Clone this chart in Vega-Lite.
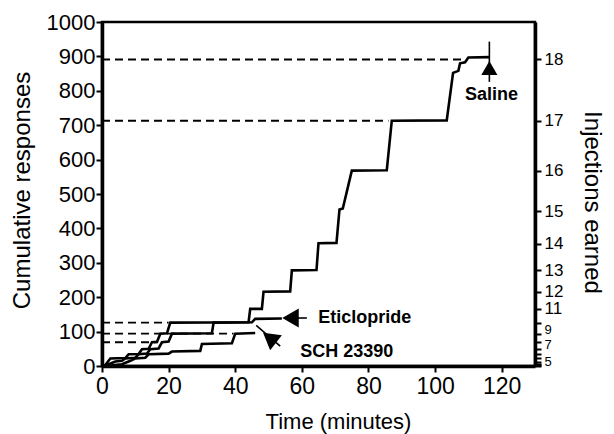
{
  "$schema": "https://vega.github.io/schema/vega-lite/v6.json",
  "width": 433,
  "height": 344,
  "autosize": {"type": "none"},
  "padding": {"left": 102, "top": 22, "right": 79, "bottom": 68},
  "background": "white",
  "config": {
    "font": "Liberation Sans",
    "view": {"stroke": "black", "strokeWidth": 2.5},
    "axis": {"grid": false, "domainColor": "black", "domainWidth": 3.5, "tickColor": "black", "tickWidth": 2, "labelColor": "black", "titleColor": "black", "titleFontWeight": "normal", "labelFlush": false, "labelOverlap": false}
  },
  "datasets": {
    "traces": [
      {"series": "Saline", "time": 0, "responses": 0},
      {"series": "Saline", "time": 1, "responses": 3},
      {"series": "Saline", "time": 2.5, "responses": 22},
      {"series": "Saline", "time": 7, "responses": 23},
      {"series": "Saline", "time": 8, "responses": 34},
      {"series": "Saline", "time": 11, "responses": 35},
      {"series": "Saline", "time": 12, "responses": 49},
      {"series": "Saline", "time": 14, "responses": 50},
      {"series": "Saline", "time": 15, "responses": 69},
      {"series": "Saline", "time": 16.5, "responses": 70},
      {"series": "Saline", "time": 17.5, "responses": 94},
      {"series": "Saline", "time": 19.5, "responses": 95},
      {"series": "Saline", "time": 20.5, "responses": 126},
      {"series": "Saline", "time": 44, "responses": 127},
      {"series": "Saline", "time": 44.5, "responses": 166},
      {"series": "Saline", "time": 48, "responses": 166},
      {"series": "Saline", "time": 48.5, "responses": 216},
      {"series": "Saline", "time": 56.5, "responses": 217},
      {"series": "Saline", "time": 57, "responses": 278},
      {"series": "Saline", "time": 64.4, "responses": 279},
      {"series": "Saline", "time": 65, "responses": 357},
      {"series": "Saline", "time": 70.4, "responses": 358},
      {"series": "Saline", "time": 71.3, "responses": 455},
      {"series": "Saline", "time": 72.3, "responses": 458},
      {"series": "Saline", "time": 75, "responses": 568},
      {"series": "Saline", "time": 85.5, "responses": 569},
      {"series": "Saline", "time": 87, "responses": 713},
      {"series": "Saline", "time": 103.5, "responses": 714},
      {"series": "Saline", "time": 105.4, "responses": 852},
      {"series": "Saline", "time": 107, "responses": 858},
      {"series": "Saline", "time": 107.5, "responses": 880},
      {"series": "Saline", "time": 109, "responses": 883},
      {"series": "Saline", "time": 110, "responses": 897},
      {"series": "Saline", "time": 116.5, "responses": 898},
      {"series": "Eticlopride", "time": 0, "responses": 0},
      {"series": "Eticlopride", "time": 2, "responses": 5},
      {"series": "Eticlopride", "time": 4, "responses": 13},
      {"series": "Eticlopride", "time": 6, "responses": 15},
      {"series": "Eticlopride", "time": 7, "responses": 22},
      {"series": "Eticlopride", "time": 10, "responses": 24},
      {"series": "Eticlopride", "time": 11, "responses": 34},
      {"series": "Eticlopride", "time": 13.5, "responses": 36},
      {"series": "Eticlopride", "time": 14.5, "responses": 49},
      {"series": "Eticlopride", "time": 17, "responses": 51},
      {"series": "Eticlopride", "time": 18, "responses": 69},
      {"series": "Eticlopride", "time": 20, "responses": 71},
      {"series": "Eticlopride", "time": 21, "responses": 94},
      {"series": "Eticlopride", "time": 33, "responses": 95},
      {"series": "Eticlopride", "time": 33.5, "responses": 126},
      {"series": "Eticlopride", "time": 45, "responses": 127},
      {"series": "Eticlopride", "time": 46, "responses": 137},
      {"series": "Eticlopride", "time": 54, "responses": 138},
      {"series": "SCH 23390", "time": 0, "responses": 0},
      {"series": "SCH 23390", "time": 3, "responses": 2},
      {"series": "SCH 23390", "time": 6, "responses": 5},
      {"series": "SCH 23390", "time": 8, "responses": 13},
      {"series": "SCH 23390", "time": 9, "responses": 17},
      {"series": "SCH 23390", "time": 10, "responses": 22},
      {"series": "SCH 23390", "time": 13, "responses": 24},
      {"series": "SCH 23390", "time": 14, "responses": 34},
      {"series": "SCH 23390", "time": 20, "responses": 36},
      {"series": "SCH 23390", "time": 21, "responses": 42},
      {"series": "SCH 23390", "time": 29.5, "responses": 44},
      {"series": "SCH 23390", "time": 30, "responses": 64},
      {"series": "SCH 23390", "time": 39, "responses": 66},
      {"series": "SCH 23390", "time": 40, "responses": 94},
      {"series": "SCH 23390", "time": 46, "responses": 96}
    ],
    "guides": [
      {"level": 891, "from": 0, "to": 109.5},
      {"level": 713, "from": 0, "to": 86},
      {"level": 126, "from": 0, "to": 20},
      {"level": 94, "from": 0, "to": 39.5},
      {"level": 69, "from": 0, "to": 16.4}
    ],
    "arrows": [
      {"series": "Saline", "t1": 116.3, "t2": 116.3, "r1": 943, "r2": 826, "tx": 116.3, "ry": 866},
      {"series": "Eticlopride", "t1": 56, "t2": 61.5, "r1": 139.5, "r2": 139.5, "tx": 56.6, "ry": 139.5},
      {"series": "SCH 23390", "t1": 46.3, "t2": 53.5, "r1": 118, "r2": 58, "tx": 50.3, "ry": 82}
    ],
    "labels": [
      {"label": "Saline", "t": 109, "r": 788},
      {"label": "Eticlopride", "t": 64.9, "r": 139.5},
      {"label": "SCH 23390", "t": 59.5, "r": 40}
    ]
  },
  "layer": [
    {
      "data": {"name": "traces"},
      "mark": {"type": "line", "color": "black", "strokeWidth": 2.6},
      "encoding": {
        "x": {"field": "time", "type": "quantitative", "scale": {"domain": [0, 130], "nice": false},
          "axis": {"values": [0, 10, 20, 30, 40, 50, 60, 70, 80, 90, 100, 110, 120, 130], "labelExpr": "datum.value % 20 == 0 ? datum.label : ''", "tickSize": 6, "labelPadding": 3, "labelFontSize": 23, "title": "Time (minutes)", "titleFontSize": 22, "titleX": 236, "titleY": 62, "titleBaseline": "alphabetic"}},
        "y": {"field": "responses", "type": "quantitative", "scale": {"domain": [0, 1000], "nice": false},
          "axis": {"values": [0, 100, 200, 300, 400, 500, 600, 700, 800, 900, 1000], "format": "d", "tickSize": 6, "labelPadding": 1, "labelFontSize": 22, "labelBaseline": "middle", "title": "Cumulative responses", "titleFontSize": 24, "titleX": -80, "titleY": 168, "titleAngle": -90, "titleBaseline": "middle", "titleAlign": "center"}},
        "detail": {"field": "series", "type": "nominal"}
      }
    },
    {
      "data": {"name": "guides"},
      "mark": {"type": "rule", "color": "black", "strokeWidth": 1.8, "strokeDash": [8, 5]},
      "encoding": {
        "x": {"field": "from", "type": "quantitative"},
        "x2": {"field": "to"},
        "y": {"field": "level", "type": "quantitative", "scale": {"domain": [0, 1000], "nice": false},
          "axis": {"orient": "right", "values": [1, 3, 7, 13, 22, 34, 49, 69, 94, 126, 166, 216, 278, 355, 450, 568, 713, 891],
            "labelExpr": "datum.value==22?'5':datum.value==49?'7':datum.value==94?'9':datum.value==166?'11':datum.value==216?'12':datum.value==278?'13':datum.value==355?'14':datum.value==450?'15':datum.value==568?'16':datum.value==713?'17':datum.value==891?'18':''",
            "labelFontSize": {"condition": {"test": "datum.value < 120", "value": 13}, "value": 17},
            "labelOffset": {"condition": [{"test": "datum.value == 94", "value": -4}, {"test": "datum.value == 49", "value": -5}, {"test": "datum.value == 22", "value": 3}], "value": 0},
            "tickSize": 6, "labelPadding": 3, "labelBaseline": "middle", "title": "Injections earned", "titleFontSize": 24, "titleX": 56, "titleY": 180, "titleAngle": 90, "titleBaseline": "middle", "titleAlign": "center"}}
      }
    },
    {
      "data": {"name": "arrows"},
      "mark": {"type": "rule", "color": "black", "strokeWidth": 1.6},
      "encoding": {
        "x": {"field": "t1", "type": "quantitative"},
        "x2": {"field": "t2"},
        "y": {"field": "r1", "type": "quantitative", "scale": {"domain": [0, 1000], "nice": false}, "axis": null},
        "y2": {"field": "r2"}
      }
    },
    {
      "data": {"name": "arrows"},
      "transform": [{"filter": "datum.series == 'Saline'"}],
      "mark": {"type": "point", "shape": "triangle-up", "filled": true, "color": "black", "size": 260, "opacity": 1},
      "encoding": {
        "x": {"field": "tx", "type": "quantitative"},
        "y": {"field": "ry", "type": "quantitative", "scale": {"domain": [0, 1000], "nice": false}, "axis": null}
      }
    },
    {
      "data": {"name": "arrows"},
      "transform": [{"filter": "datum.series == 'Eticlopride'"}],
      "mark": {"type": "point", "shape": "triangle-left", "filled": true, "color": "black", "size": 360, "opacity": 1},
      "encoding": {
        "x": {"field": "tx", "type": "quantitative"},
        "y": {"field": "ry", "type": "quantitative", "scale": {"domain": [0, 1000], "nice": false}, "axis": null}
      }
    },
    {
      "data": {"name": "arrows"},
      "transform": [{"filter": "datum.series == 'SCH 23390'"}],
      "mark": {"type": "point", "shape": "triangle-left", "filled": true, "color": "black", "size": 360, "opacity": 1, "angle": 38},
      "encoding": {
        "x": {"field": "tx", "type": "quantitative"},
        "y": {"field": "ry", "type": "quantitative", "scale": {"domain": [0, 1000], "nice": false}, "axis": null}
      }
    },
    {
      "data": {"name": "labels"},
      "mark": {"type": "text", "align": "left", "baseline": "middle", "fontWeight": "bold", "fontSize": 18, "color": "black"},
      "encoding": {
        "x": {"field": "t", "type": "quantitative"},
        "y": {"field": "r", "type": "quantitative", "scale": {"domain": [0, 1000], "nice": false}, "axis": null},
        "text": {"field": "label", "type": "nominal"}
      }
    }
  ],
  "resolve": {"scale": {"y": "independent"}}
}
